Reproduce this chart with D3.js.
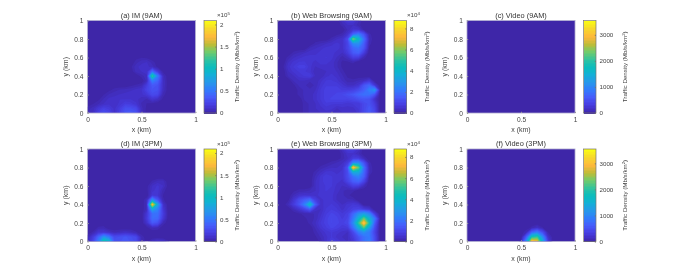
<!DOCTYPE html>
<html>
<head>
<meta charset="utf-8">
<script src="https://d3js.org/d3.v7.min.js"></script>
<style>
  body { margin: 0; background: #fff; }
  svg { display: block; font-family: "Liberation Sans", Arial, sans-serif; filter: blur(0.3px); }
  text { fill: #444; }
</style>
</head>
<body>
<div id="chart"></div>
<script>
// Density on a 21x21 grid, x = 0..1 and y = 1..0 in 0.05 km steps.
// Rows stop at the last non-zero value, anything after that is 0.
// imAM, imPM, webAM, webPM are in 10^3 Mb/s/km2, videoPM in Mb/s/km2.
const imAM = [
  [], [], [], [], [], [], [], [],
  [0,0,0,0,0,0,0,0,0,2,3,2],
  [0,0,0,0,0,0,0,0,0,5,9,10,5,1],
  [0,0,0,0,0,0,0,0,2,9,11,11,8,2],
  [0,0,0,0,0,0,0,0,0,8,10,12,46,18,2],
  [0,0,0,0,0,0,0,0,0,0,5,9,125,55,8],
  [0,0,0,0,0,0,0,0,0,0,0,8,58,42,10],
  [0,0,0,0,0,0,0,0,2,4,6,20,36,32,10],
  [0,0,0,0,2,5,7,8,9,11,13,24,32,30,9],
  [0,0,0,3,7,9,10,11,12,12,12,17,28,25,5],
  [0,0,2,7,11,11,13,13,13,11,8,6,14,10,2],
  [0,3,6,10,12,11,14,20,18,14,6,3,2],
  [5,8,16,22,18,12,20,30,30,26,8,2],
  [6,10,22,30,24,12,22,34,36,32,8,2]
];
const imPM = [
  [], [], [], [], [], [], [],
  [0,0,0,0,0,0,0,0,0,0,0,0,4,8,8],
  [0,0,0,0,0,0,0,0,0,0,0,2,10,14,10,1],
  [0,0,0,0,0,0,0,0,0,0,0,2,12,15,5],
  [0,0,0,0,0,0,0,0,0,0,0,0,16,14,3],
  [0,0,0,0,0,0,0,0,0,0,0,8,70,34,4],
  [0,0,0,0,0,0,0,0,0,0,0,8,185,80,12],
  [0,0,0,0,0,0,0,0,0,0,0,8,85,58,16],
  [0,0,0,0,0,0,0,0,0,0,0,16,46,48,20],
  [0,0,0,0,0,0,0,0,0,0,0,18,46,44,16],
  [0,0,0,0,0,0,0,0,0,0,0,12,36,30,6],
  [0,0,4,5,0,0,0,0,0,0,0,2,8,6],
  [0,4,14,14,10,6,8,10,8,4],
  [6,18,42,70,52,28,30,34,30,26,6],
  [8,24,56,120,95,32,32,36,32,28,6,2,10,14,12,4]
];
const webAM = [
  [0,0,0,0,0,0,0,0,0,0,0,0,4,7,7,3],
  [0,0,0,0,0,0,0,0,0,0,0,0,2,4,4,2],
  [0,0,0,0,0,0,0,0,0,0,0,0,0,3,6,6,1],
  [0,0,0,0,0,0,0,0,0,0,0,1,2,6,18,24,14,2],
  [0,0,0,0,0,0,0,0,0,0,2,4,5,12,60,42,20,3],
  [0,0,0,0,0,0,0,2,3,4,5,6,5,10,26,28,16,2],
  [0,0,0,0,0,0,3,4,5,6,6,6,5,10,18,20,14,1],
  [0,0,0,2,3,4,5,5,6,6,6,5,4,8,15,17,8],
  [0,0,2,4,5,6,6,6,6,7,6,4,2,4,9,8,2],
  [0,0,4,6,7,7,6,5,6,6,5,3,1,1,2],
  [0,1,5,7,9,9,6,4,5,5,5,3,1],
  [0,0,4,6,7,7,6,3,3,4,5,4,2],
  [0,0,3,4,6,7,8,4,3,5,6,5,3,1],
  [0,0,0,3,4,4,3,3,5,7,7,6,4,2,2,3,4,7],
  [0,0,0,1,3,3,2,3,6,8,8,8,6,4,4,6,14,18,7],
  [0,0,0,0,2,3,3,4,7,9,9,9,8,8,9,12,16,24,30,2],
  [0,0,0,0,2,3,3,5,7,9,9,10,11,13,15,18,20,20,14],
  [0,0,0,0,0,3,3,5,7,9,10,10,10,10,11,13,14,13,5],
  [0,0,0,0,0,2,3,4,6,8,7,7,7,6,7,7,11,13,8],
  [0,0,0,0,0,2,3,4,5,6,6,4,5,5,5,7,11,15,10],
  [0,0,0,0,0,2,3,4,4,5,4,3,4,4,4,6,11,15,11]
];
const webPM = [
  [0,0,0,0,0,0,0,0,0,0,0,0,4,8,9,5],
  [0,0,0,0,0,0,0,0,0,0,0,0,2,5,5,3],
  [0,0,0,0,0,0,0,0,0,0,0,0,2,4,8,8,3],
  [0,0,0,0,0,0,0,0,0,1,2,3,4,8,26,28,14,2],
  [0,0,0,0,0,0,0,0,2,3,4,4,5,14,80,58,20,3],
  [0,0,0,0,0,0,0,2,4,6,6,5,6,12,36,36,18,3],
  [0,0,0,0,0,0,0,3,6,8,7,6,6,12,20,24,16,1],
  [0,0,0,0,0,0,0,4,6,8,7,6,5,10,16,18,10],
  [0,0,0,0,0,0,0,4,6,7,7,5,4,5,9,8,3],
  [0,0,0,1,2,2,3,4,6,7,6,5,3,2,2],
  [0,0,0,3,5,6,5,5,6,6,6,4,3,2],
  [0,0,1,6,12,16,20,9,5,6,6,4,3,3,3],
  [0,0,3,8,14,24,44,16,5,6,7,6,4,6,7,6],
  [0,0,0,3,6,10,16,5,4,7,8,7,5,7,9,10,8,6],
  [0,0,0,0,1,2,2,3,5,8,10,9,7,9,18,28,32,26,8],
  [0,0,0,0,0,1,2,3,6,9,11,10,8,10,22,38,58,38,22,1],
  [0,0,0,0,0,0,2,4,7,9,11,10,9,11,26,52,80,48,16],
  [0,0,0,0,0,0,0,3,6,8,10,9,7,8,20,36,55,32,12],
  [0,0,0,0,0,0,0,2,4,6,7,6,5,4,11,22,28,22,10],
  [0,0,0,0,0,0,0,1,3,5,7,5,4,4,8,14,20,22,12],
  [0,0,0,0,0,0,0,0,2,5,9,7,5,4,6,12,20,24,12]
];
const videoAM = d3.range(21).map(() => []);
const videoPM = [
  [], [], [], [], [], [], [], [], [], [], [], [], [], [], [], [], [],
  [0,0,0,0,0,0,0,0,0,0,0,0,80,180,60],
  [0,0,0,0,0,0,0,0,0,0,0,120,700,950,500,60],
  [0,0,0,0,0,0,0,0,0,0,0,650,1900,2100,1100,200],
  [0,0,0,0,0,0,0,0,0,0,100,1200,3200,3000,1500,350]
];

const panelTitles = ["(a) IM (9AM)", "(b) Web Browsing (9AM)", "(c) Video (9AM)",
                     "(d) IM (3PM)", "(e) Web Browsing (3PM)", "(f) Video (3PM)"];
const panelGrids = [imAM, webAM, videoAM, imPM, webPM, videoPM];
const colorMax = [209, 87.5, 3550, 209, 87.5, 3550];
const barTicks = [[0, 50, 100, 150, 200], [0, 20, 40, 60, 80], [0, 1000, 2000, 3000]];
const barTickLabels = [["0", "0.5", "1", "1.5", "2"], ["0", "2", "4", "6", "8"], ["0", "1000", "2000", "3000"]];
const barExponent = ["5", "4", null];
const xTicks = [0, 0.5, 1];
const yTicks = [0, 0.2, 0.4, 0.6, 0.8, 1];

// parula, sampled
const parulaAt = [0, .05, .1, .175, .25, .33, .42, .5, .58, .67, .75, .83, .92, 1];
const parulaRGB = ["#3e26a8", "#4332cb", "#4741e5", "#465dfb", "#327cfc", "#2796eb", "#12b1d6",
                   "#0bbcbd", "#30c3a0", "#73cb69", "#bebc37", "#feb83c", "#f7d72d", "#f9fb14"];
const parula = d3.scaleLinear().domain(parulaAt).range(parulaRGB).clamp(true);

const width = 676, height = 271;
const lefts = [87.5, 277.5, 467], tops = [20.5, 149];
const w = 108, h = 92.5, barGap = 116.5, barW = 12.5, levels = 64;

const svg = d3.select("#chart").append("svg").attr("width", width).attr("height", height);
const defs = svg.append("defs");
defs.append("clipPath").attr("id", "plotclip")
  .append("rect").attr("width", w).attr("height", h);

panelGrids.forEach((grid, p) => {
  const col = p % 3, row = Math.floor(p / 3), cmax = colorMax[p];
  const g = svg.append("g").attr("transform", `translate(${lefts[col]},${tops[row]})`);

  const x = d3.scaleLinear().domain([0, 1]).range([0, w]);
  const y = d3.scaleLinear().domain([0, 1]).range([h, 0]);
  const n = grid.length;
  const xCell = d3.scaleLinear().domain([0.5, n - 0.5]).range([0, w]);
  const yCell = d3.scaleLinear().domain([0.5, n - 0.5]).range([0, h]);

  const values = [];
  grid.forEach(r => d3.range(n).forEach(i => values.push(r[i] || 0)));

  const thresholds = d3.range(1, levels).map(i => i / levels * cmax);
  const contours = d3.contours().size([n, n]).thresholds(thresholds).smooth(true)(values);
  const path = d3.geoPath(d3.geoTransform({
    point(a, b) { this.stream.point(xCell(a), yCell(b)); }
  }));

  const plot = g.append("g").attr("clip-path", "url(#plotclip)");
  plot.append("rect").attr("width", w).attr("height", h).attr("fill", parula(0));
  plot.selectAll("path")
    .data(contours.filter(c => c.coordinates.length))
    .join("path")
    .attr("d", path)
    .attr("fill", c => parula(c.value / cmax));

  g.append("rect").attr("width", w).attr("height", h)
    .attr("fill", "none").attr("stroke", "#aaa6cc").attr("stroke-width", 0.8);

  const xAxis = g.append("g").attr("transform", `translate(0,${h})`)
    .call(d3.axisBottom(x).tickValues(xTicks).tickFormat(d3.format("")).tickSize(-1.2).tickPadding(4.2));
  const yAxis = g.append("g")
    .call(d3.axisLeft(y).tickValues(yTicks).tickFormat(d3.format("")).tickSize(-1.2).tickPadding(4));
  [xAxis, yAxis].forEach(a => {
    a.select(".domain").remove();
    a.selectAll("line").attr("stroke", "#999");
    a.selectAll("text").attr("font-size", 6.6);
    a.attr("font-family", null);
  });

  g.append("text").attr("x", w / 2).attr("y", -2.8).attr("text-anchor", "middle")
    .attr("font-size", 7.4).style("fill", "#333").text(panelTitles[p]);
  g.append("text").attr("x", w / 2).attr("y", h + 19).attr("text-anchor", "middle")
    .attr("font-size", 7).text("x (km)");
  g.append("text").attr("transform", `translate(-20,${h / 2}) rotate(-90)`)
    .attr("text-anchor", "middle").attr("font-size", 7).text("y (km)");

  // colorbar
  const bar = g.append("g").attr("transform", `translate(${barGap},0)`);
  const c = d3.scaleLinear().domain([0, cmax]).range([h, 0]);
  bar.selectAll("rect").data(d3.range(levels)).join("rect")
    .attr("width", barW)
    .attr("y", i => c((i + 1) / levels * cmax))
    .attr("height", h / levels + 0.5)
    .attr("shape-rendering", "crispEdges")
    .attr("fill", i => parula(i / (levels - 1)));
  bar.append("rect").attr("width", barW).attr("height", h)
    .attr("fill", "none").attr("stroke", "#77756f").attr("stroke-width", 0.7);
  const barAxis = bar.append("g").attr("transform", `translate(${barW},0)`)
    .call(d3.axisRight(c).tickValues(barTicks[col])
      .tickFormat((d, i) => barTickLabels[col][i]).tickSize(-1.2).tickPadding(3.5));
  barAxis.select(".domain").remove();
  barAxis.selectAll("line").attr("stroke", "#77756f");
  barAxis.attr("font-family", null);
  barAxis.selectAll("text").attr("font-size", 6.2);

  if (barExponent[col]) {
    const ex = bar.append("text").attr("x", barW + 0.5).attr("y", -3.2).attr("font-size", 6.2);
    ex.append("tspan").text("×10");
    ex.append("tspan").attr("dy", -2).attr("font-size", 4.4).text(barExponent[col]);
  }
  const labelX = col === 2 ? barW + 31 : barW + 22.5;
  const lab = bar.append("text").attr("transform", `translate(${labelX},${h / 2}) rotate(-90)`)
    .attr("text-anchor", "middle").attr("font-size", 6.2);
  lab.append("tspan").text("Traffic Density (Mb/s/km");
  lab.append("tspan").attr("dy", -2).attr("font-size", 4.4).text("2");
  lab.append("tspan").attr("dy", 2).text(")");
});
</script>
</body>
</html>
